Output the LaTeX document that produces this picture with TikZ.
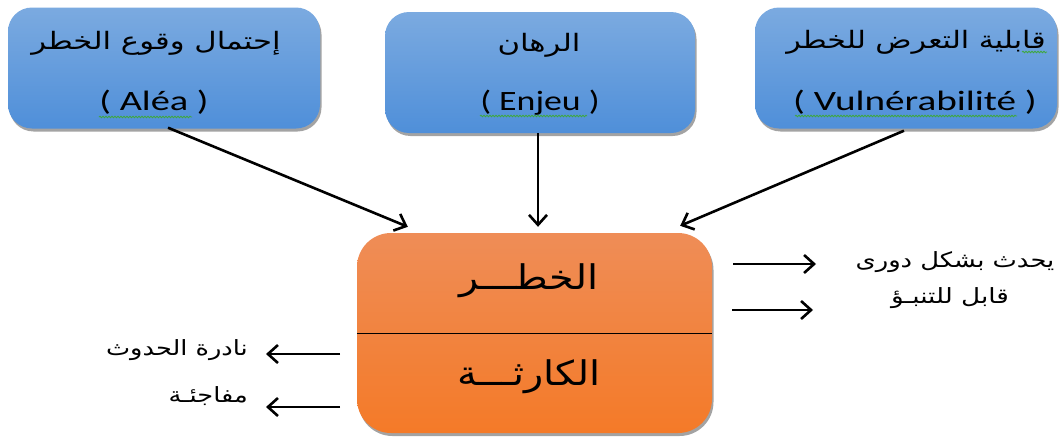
\documentclass[tikz,border=0pt]{standalone}
\usepackage{fontspec}
\setmainfont{Carlito}
\newfontfamily\arabicfont[Script=Arabic]{DejaVu Sans}
\TeXXeTstate=1
\usetikzlibrary{arrows.meta,shadows,decorations.pathmorphing}
\newcommand{\artxt}[2][1.25]{\scalebox{#1}[1]{\arabicfont\beginR #2\endR}}
\newcommand{\lattxt}[2][1.35]{\scalebox{#1}[1]{#2}}
\definecolor{bluetop}{HTML}{7BAAE0}
\definecolor{bluebot}{HTML}{4F8FD9}
\definecolor{orangetop}{HTML}{EF8D57}
\definecolor{orangebot}{HTML}{F47A28}
\definecolor{spell}{HTML}{3FA83F}
\begin{document}
\begin{tikzpicture}[x=1pt,y=-1pt,
  topbox/.style={draw=none, rounded corners=24pt, top color=bluetop, bottom color=bluebot,
    drop shadow={shadow xshift=1.5pt, shadow yshift=-3pt, fill=black!60, opacity=0.6},
    minimum height=121pt, inner sep=0pt},
  mainbox/.style={draw=none, rounded corners=34pt, top color=orangetop, bottom color=orangebot,
    drop shadow={shadow xshift=1.5pt, shadow yshift=-3pt, fill=black!60, opacity=0.6},
    minimum width=355pt, minimum height=200pt, inner sep=0pt},
  artop/.style={font=\fontsize{24}{28}\selectfont, inner sep=0pt},
  latop/.style={font=\fontsize{28}{32}\selectfont, inner sep=0pt},
  armain/.style={font=\fontsize{34}{40}\selectfont, inner sep=0pt},
  arside/.style={font=\fontsize{21}{25}\selectfont, inner sep=0pt},
  conn/.style={-{Straight Barb[length=10pt,width=18pt,line width=2.6pt]}, line width=2.6pt, black},
  sidearrow/.style={-{Straight Barb[length=10pt,width=18pt,line width=2.6pt]}, line width=2.6pt, black},
  squig/.style={spell, line width=0.8pt, decorate, decoration={snake, segment length=3pt, amplitude=0.8pt}}
]
\useasboundingbox (0,0) rectangle (1062,439);

% top boxes
\node[topbox, minimum width=312pt] (b1) at (164,68) {};
\node[topbox, minimum width=310pt] (b2) at (540,72.5) {};
\node[topbox, minimum width=302pt] (b3) at (906,68) {};

\node[artop] (t1a) at (156,43) {\artxt[1.28]{إحتمال وقوع الخطر}};
\node[latop] (t1b) at (154,102) {\lattxt[1.37]{( Aléa )}};
\node[artop] (t2a) at (539,45) {\artxt[1.28]{الرهان}};
\node[latop] (t2b) at (540,103) {\lattxt[1.28]{( Enjeu )}};
\node[artop] (t3a) at (916,42) {\artxt[1.25]{قابلية التعرض للخطر}};
\node[latop] (t3b) at (915,102) {\lattxt[1.4]{( Vulnérabilité )}};

% spell-check underlines
\coordinate (s1a) at (99,117); \coordinate (s1b) at (192,117);
\coordinate (s2a) at (480,116); \coordinate (s2b) at (587,116);
\coordinate (s3a) at (795,116); \coordinate (s3b) at (1017,116);
\coordinate (s4a) at (1022,52); \coordinate (s4b) at (1047,52);
\draw[squig] (s1a) -- (s1b);
\draw[squig] (s2a) -- (s2b);
\draw[squig] (s3a) -- (s3b);
\draw[squig] (s4a) -- (s4b);

% main box
\node[mainbox] (K) at (534.5,333) {};
\draw[line width=0.9pt] (K.west) -- (K.east);
\node[armain] (k1) at (529,281) {\artxt[1.17]{الخطـــر}};
\node[armain] (k2) at (529,377) {\artxt[1.17]{الكارثـــة}};

% connectors
\path ([yshift=6pt]K.north) coordinate (kn);
\path ([xshift=-2pt]b2.south) coordinate (b2s);
\draw[conn] ([xshift=4pt,yshift=1pt]b1.south) -- ([xshift=51pt,yshift=6pt]K.north west);
\draw[conn] (b2s) -- (kn -| b2s);
\draw[conn] ([xshift=-2pt,yshift=-2pt]b3.south) -- ([xshift=-32pt,yshift=7pt]K.north east);

% right side
\node[arside] (r1) at (955,262) {\artxt[1.23]{يحدث بشكل دورى}};
\node[arside] (r2) at (950,298) {\artxt[1.25]{قابل للتنبـؤ}};
\coordinate (ra1) at (733,264); \coordinate (rb1) at (816,264);
\coordinate (ra2) at (732,310); \coordinate (rb2) at (813,310);
\draw[sidearrow] (ra1) -- (rb1);
\draw[sidearrow] (ra2) -- (rb2);

% left side
\node[arside, anchor=east] (l1) at (248,350) {\artxt[1.22]{نادرة الحدوث}};
\node[arside, anchor=east] (l2) at (248,396) {\artxt[1.22]{مفاجئـة}};
\coordinate (la1) at (340,354); \coordinate (lb1) at (266,354);
\coordinate (la2) at (340,407); \coordinate (lb2) at (266,407);
\draw[sidearrow] (la1) -- (lb1);
\draw[sidearrow] (la2) -- (lb2);
\end{tikzpicture}
\end{document}
